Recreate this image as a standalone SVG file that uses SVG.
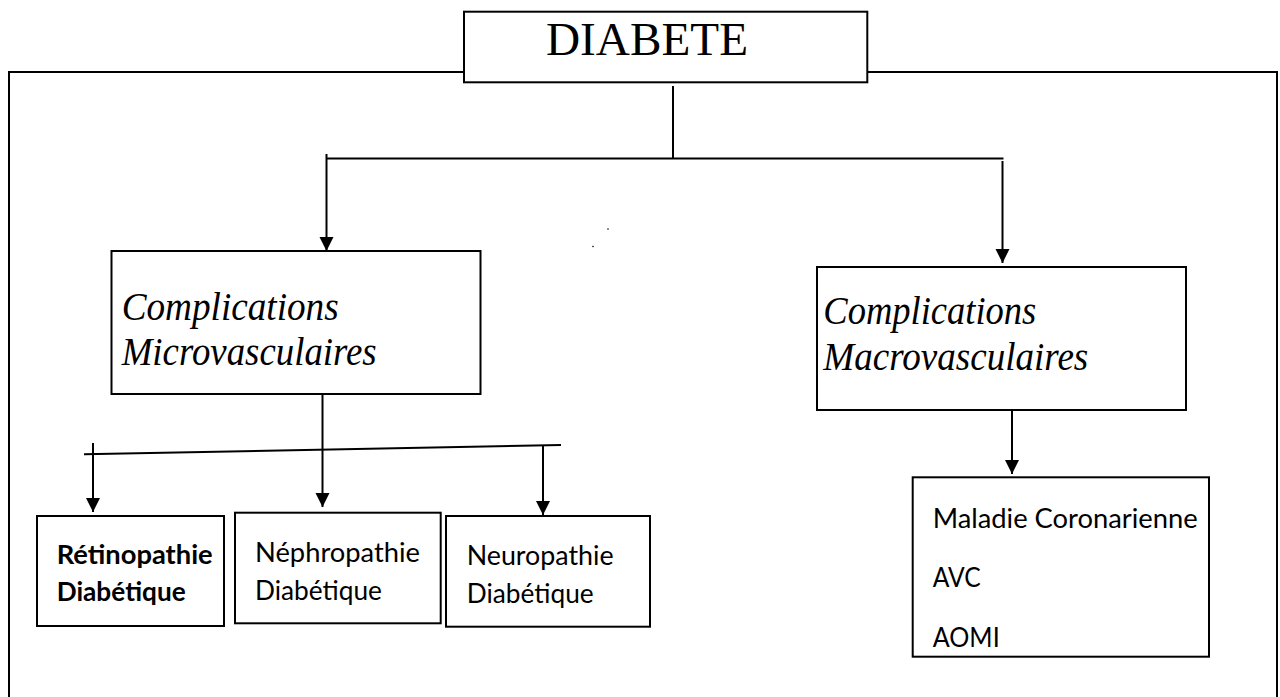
<svg xmlns="http://www.w3.org/2000/svg" width="1280" height="697" viewBox="0 0 1280 697">
<style>
.box{fill:#fff;stroke:#000;stroke-width:2}
.ln{stroke:#000;stroke-width:2;fill:none}
.ar{stroke:#000;stroke-width:2;fill:none;marker-end:url(#ah)}
.ser{font-family:"Liberation Serif","Times New Roman",serif;fill:#000}
.it{font-style:italic;font-size:39px}
.sans{font-family:"Lato","Open Sans",sans-serif;font-size:27px;fill:#000}
.b{font-weight:bold}
</style>
<defs>
<marker id="ah" markerUnits="userSpaceOnUse" markerWidth="15" markerHeight="15" refX="14" refY="7" orient="auto">
<path d="M0,0 L14,7 L0,14 Z" fill="#000"/>
</marker>
</defs>
<rect width="1280" height="697" fill="#fff"/>
<g id="frame">
<rect x="9" y="72" width="1268" height="640" fill="none" stroke="#000" stroke-width="2"/>
</g>
<g id="connectors">
<line class="ln" x1="673" y1="86" x2="673" y2="158.5"/>
<line class="ln" x1="326" y1="158.5" x2="1003.5" y2="158.5"/>
<line class="ar" x1="326.5" y1="154" x2="326.5" y2="251"/>
<line class="ar" x1="1002.5" y1="161" x2="1002.5" y2="263"/>
<line class="ln" x1="84" y1="454.3" x2="561" y2="445"/>
<line class="ar" x1="93" y1="443" x2="93" y2="512"/>
<line class="ar" x1="322.5" y1="394" x2="322.5" y2="507"/>
<line class="ar" x1="543" y1="445" x2="543" y2="515"/>
<line class="ar" x1="1012" y1="410" x2="1012" y2="474"/>
<circle cx="608" cy="229" r="0.8" fill="#000"/>
<circle cx="593" cy="246.5" r="0.8" fill="#000"/>
</g>
<g id="diabete">
<rect class="box" x="464" y="11.7" width="403.3" height="70.6"/>
<text class="ser" x="546" y="55" font-size="47" textLength="202" lengthAdjust="spacingAndGlyphs">DIABETE</text>
</g>
<g id="micro">
<rect class="box" x="111.5" y="251" width="369" height="143"/>
<text class="ser it" x="121.7" y="320" textLength="217" lengthAdjust="spacingAndGlyphs">Complications</text>
<text class="ser it" x="121.7" y="365" textLength="255" lengthAdjust="spacingAndGlyphs">Microvasculaires</text>
</g>
<g id="macro">
<rect class="box" x="817" y="267" width="369" height="143"/>
<text class="ser it" x="823.3" y="323.5" textLength="213" lengthAdjust="spacingAndGlyphs">Complications</text>
<text class="ser it" x="823.3" y="369.5" textLength="265" lengthAdjust="spacingAndGlyphs">Macrovasculaires</text>
</g>
<g id="retinopathie">
<rect class="box" x="37" y="516" width="187" height="110"/>
<text class="sans b" x="56.7" y="564" textLength="156" lengthAdjust="spacingAndGlyphs">Rétinopathie</text>
<text class="sans b" x="56.7" y="601" textLength="129" lengthAdjust="spacingAndGlyphs">Diabétique</text>
</g>
<g id="nephropathie">
<rect class="box" x="235" y="512.7" width="205.7" height="110.6"/>
<text class="sans" x="255" y="562" textLength="165" lengthAdjust="spacingAndGlyphs">Néphropathie</text>
<text class="sans" x="255" y="600" textLength="127" lengthAdjust="spacingAndGlyphs">Diabétique</text>
</g>
<g id="neuropathie">
<rect class="box" x="446" y="516" width="204" height="110.7"/>
<text class="sans" x="466.7" y="565" textLength="147" lengthAdjust="spacingAndGlyphs">Neuropathie</text>
<text class="sans" x="466.7" y="603" textLength="127" lengthAdjust="spacingAndGlyphs">Diabétique</text>
</g>
<g id="macro-list">
<rect class="box" x="912.7" y="477.3" width="296.3" height="179.4"/>
<text class="sans" x="932.7" y="528.3" textLength="265" lengthAdjust="spacingAndGlyphs">Maladie Coronarienne</text>
<text class="sans" x="932.7" y="587.3" textLength="48" lengthAdjust="spacingAndGlyphs">AVC</text>
<text class="sans" x="932.7" y="647.3" textLength="67" lengthAdjust="spacingAndGlyphs">AOMI</text>
</g>
</svg>
